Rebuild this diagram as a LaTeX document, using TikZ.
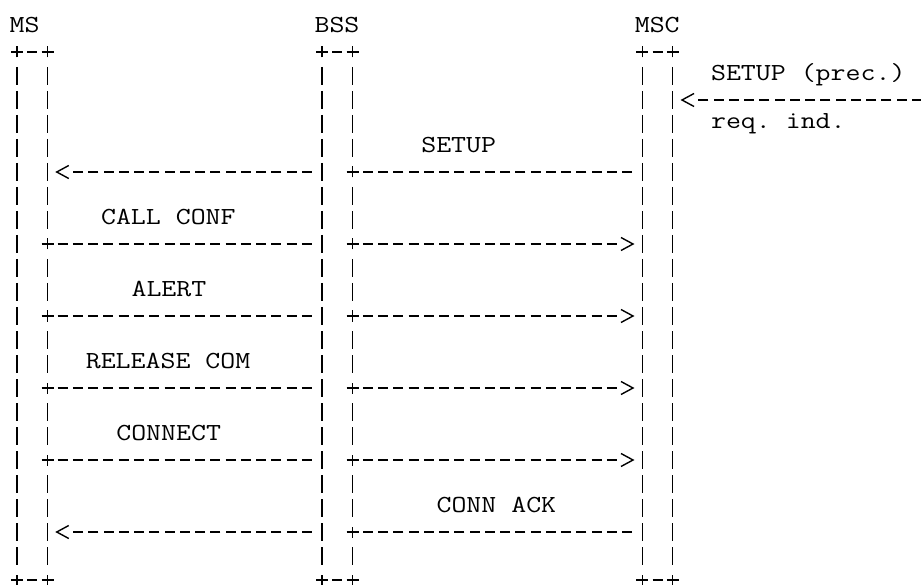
\documentclass[tikz,border=0pt]{standalone}
\usepackage{graphicx}
\newcommand\asciitext[1]{\scalebox{1.185}[1]{#1}}
\tikzset{
  ln/.style={line width=1.4pt, black},
  hdash/.style={ln, dash pattern=on 10pt off 5.25pt},
  txt/.style={inner sep=0pt, anchor=base west,
    font=\fontsize{24.5pt}{24pt}\ttfamily\frenchspacing},
  plusmark/.pic={\draw[ln] (-6pt,0pt) -- (6pt,0pt) (0pt,-5.5pt) -- (0pt,5.5pt);},
  ltip/.pic={\draw[ln] (6pt,6.5pt) -- (-6pt,0pt) -- (6pt,-6.5pt);},
  rtip/.pic={\draw[ln] (-6pt,6.5pt) -- (6pt,0pt) -- (-6pt,-6.5pt);},
}
\begin{document}
\begin{tikzpicture}[x=15.25pt, y=-24pt]
\useasboundingbox (-1.1148,-1.1667) rectangle (59.2787,23.2083);

% headers
\node[txt] (hMS)  at (-0.5,0.208) {\asciitext{MS}};
\node[txt] (hBSS) at (19.5,0.208) {\asciitext{BSS}};
\node[txt] (hMSC) at (40.5,0.208) {\asciitext{MSC}};

% box tops and bottoms "+-+"
\foreach \c in {0,20,41} {
  \foreach \r in {1,23} {
    \pic at (\c,\r) {plusmark};
    \pic at (\c+2,\r) {plusmark};
    \draw[ln] (\c+1-0.328,\r) -- (\c+1+0.328,\r);
  }
}

% lifeline bars
\foreach \c in {0,20,41,43} {
  \foreach \r in {2,...,22} {
    \draw[ln] (\c,\r-0.375) -- (\c,\r+0.375);
  }
}
\foreach \r in {2,...,8,10,11,13,14,16,17,19,20,21,22} {
  \draw[ln] (2,\r-0.375) -- (2,\r+0.375);
}
\foreach \r in {2,3,4,5,7,8,10,11,13,14,16,17,19,20,22} {
  \draw[ln] (22,\r-0.375) -- (22,\r+0.375);
}

% incoming SETUP (prec.) at MSC
\coordinate (ext3) at (60.328,3);
\coordinate (msc3) at (44.672,3);
\draw[hdash] (ext3) -- (msc3);
\pic at (44,3) {ltip};
\node[txt] (lSetupPrec) at (45.5,2.208) {\asciitext{SETUP (prec.)}};
\node[txt] (lReqInd) at (45.5,4.208) {\asciitext{req. ind.}};

% SETUP: MSC -> BSS -> MS
\node[txt] (lSetup) at (26.5,5.208) {\asciitext{SETUP}};
\coordinate (msc6) at (40.328,6);
\coordinate (bssr6) at (22.672,6);
\coordinate (bssl6) at (19.328,6);
\coordinate (ms6) at (3.672,6);
\pic at (22,6) {plusmark};
\draw[hdash] (msc6) -- (bssr6);
\draw[hdash] (bssl6) -- (ms6);
\pic at (3,6) {ltip};

% MS -> BSS -> MSC messages
\node[txt] (lCallConf) at (5.5,8.208) {\asciitext{CALL CONF}};
\node[txt] (lAlert) at (7.5,11.208) {\asciitext{ALERT}};
\node[txt] (lRelCom) at (4.5,14.208) {\asciitext{RELEASE COM}};
\node[txt] (lConnect) at (6.5,17.208) {\asciitext{CONNECT}};
\foreach \r in {9,12,15,18} {
  \coordinate (msa\r) at (2.672,\r);
  \coordinate (bssa\r) at (19.328,\r);
  \coordinate (bssb\r) at (22.672,\r);
  \coordinate (msca\r) at (39.328,\r);
  \pic at (2,\r) {plusmark};
  \draw[hdash] (msa\r) -- (bssa\r);
  \pic at (22,\r) {plusmark};
  \draw[hdash] (bssb\r) -- (msca\r);
  \pic at (40,\r) {rtip};
}

% CONN ACK: MSC -> BSS -> MS
\node[txt] (lConnAck) at (27.5,20.208) {\asciitext{CONN ACK}};
\coordinate (msc21) at (40.328,21);
\coordinate (bssr21) at (22.672,21);
\coordinate (bssl21) at (19.328,21);
\coordinate (ms21) at (3.672,21);
\pic at (22,21) {plusmark};
\draw[hdash] (msc21) -- (bssr21);
\draw[hdash] (bssl21) -- (ms21);
\pic at (3,21) {ltip};
\end{tikzpicture}
\end{document}
